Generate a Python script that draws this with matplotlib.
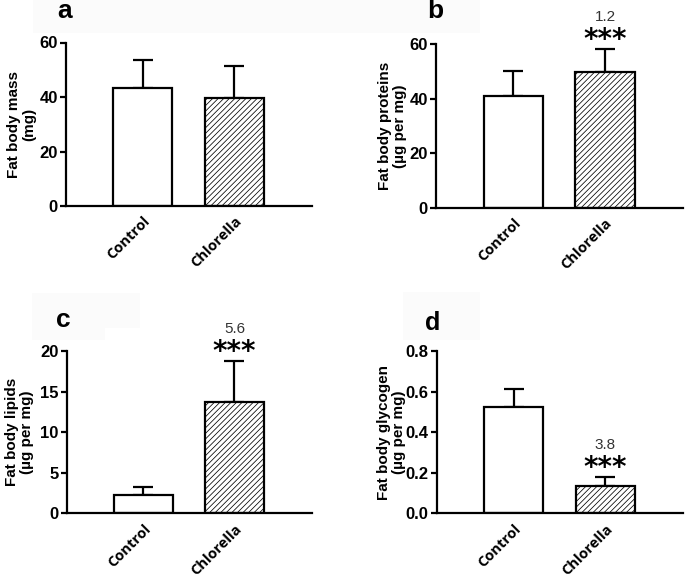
import matplotlib
matplotlib.use("Agg")
import matplotlib.pyplot as plt
from matplotlib.patches import Rectangle

plt.rcParams['font.family'] = ['Liberation Sans', 'DejaVu Sans']
plt.rcParams['hatch.color'] = '#444444'
plt.rcParams['hatch.linewidth'] = 0.55

categories = ["Control", "Chlorella"]

mass_mean = [43.4, 39.7]
mass_err = [10.1, 11.6]

protein_mean = [41.1, 49.9]
protein_err = [9.1, 8.5]

lipid_mean = [2.26, 13.7]
lipid_err = [0.95, 5.1]

glycogen_mean = [0.525, 0.135]
glycogen_err = [0.086, 0.042]

panel_letters = ["a", "b", "c", "d"]
ylabels = ["Fat body mass\n(mg)", "Fat body proteins\n(\u00b5g per mg)",
           "Fat body lipids\n(\u00b5g per mg)", "Fat body glycogen\n(\u00b5g per mg)"]
fold_labels = [None, "1.2", "5.6", "3.8"]
yticks = [[0, 20, 40, 60], [0, 20, 40, 60], [0, 5, 10, 15, 20], [0.0, 0.2, 0.4, 0.6, 0.8]]
ytick_labels = [["0", "20", "40", "60"], ["0", "20", "40", "60"],
                ["0", "5", "10", "15", "20"], ["0.0", "0.2", "0.4", "0.6", "0.8"]]

means = [mass_mean, protein_mean, lipid_mean, glycogen_mean]
errs = [mass_err, protein_err, lipid_err, glycogen_err]

W, H = 685, 582
fig = plt.figure(figsize=(W / 100, H / 100), dpi=100)

# faint backgrounds behind panel letters (px boxes)
for (x0, y0, x1, y1) in [(33, 0, 340, 33), (340, 0, 480, 33), (32, 293, 140, 328),
                         (32, 328, 105, 340), (403, 292, 480, 340)]:
    fig.patches.append(Rectangle((x0 / W, 1 - y1 / H), (x1 - x0) / W, (y1 - y0) / H,
                                 transform=fig.transFigure, facecolor='#fbfbfb',
                                 edgecolor='none', zorder=0))

# axes positions in px: left, right, top, bottom
boxes = [(66, 312, 42.5, 206), (436.3, 683, 44.3, 207.7),
         (66.7, 312, 351, 513.3), (436.7, 683, 351, 513.3)]
letter_pos = [(64.5, 10.5), (435, 11), (63.5, 320), (432.5, 323.5)]
letter_size = [19, 19, 19, 18]
ylabel_right_px = [30, 29.5, 32.5, 31]

x = [1, 2]
for i in range(4):
    l, r, t, b = boxes[i]
    ax = fig.add_axes([l / W, 1 - b / H, (r - l) / W, (b - t) / H])
    ax.set_facecolor('none')
    ax.bar(x, means[i], width=0.645, color=['white', 'white'],
           edgecolor='black', linewidth=1.6, hatch=[None, '//////'], zorder=2)
    ax.errorbar(x, means[i], yerr=[[0, 0], errs[i]], fmt='none', ecolor='black',
                elinewidth=1.6, capsize=7, capthick=1.6, zorder=1)
    ax.set_xlim(0.16, 2.85)
    ax.set_ylim(yticks[i][0], yticks[i][-1])
    ax.set_yticks(yticks[i])
    ax.set_yticklabels(ytick_labels[i], fontsize=12, fontweight='bold')
    ax.set_xticks(x)
    ax.set_xticklabels(categories, rotation=45, ha='right', rotation_mode='anchor',
                       fontsize=10.5, fontweight='bold', family=['Open Sans', 'DejaVu Sans'])
    ax.tick_params(axis='x', length=0, pad=6)
    ax.tick_params(axis='y', length=4, width=1.6, pad=2)
    for s in ['top', 'right']:
        ax.spines[s].set_visible(False)
    for s in ['left', 'bottom']:
        ax.spines[s].set_linewidth(1.6)
    ax.set_ylabel(ylabels[i], fontsize=11, fontweight='bold', linespacing=1.1)
    ax.yaxis.set_label_coords(-ylabel_right_px[i] / (r - l), 0.5)
    if fold_labels[i] is not None:
        top = means[i][1] + errs[i][1]
        ax.annotate("***", xy=(2, top), xytext=(0, -3.5), textcoords='offset points',
                    ha='center', va='bottom', fontsize=20, fontweight='bold',
                    family=['DejaVu Sans'], annotation_clip=False)
        ax.annotate(fold_labels[i], xy=(2, top), xytext=(0, 18), textcoords='offset points',
                    ha='center', va='bottom', fontsize=11, color='#333333',
                    annotation_clip=False)
    lx, ly = letter_pos[i]
    fig.text(lx / W, 1 - ly / H, panel_letters[i], fontsize=letter_size[i], fontweight='bold',
             ha='center', va='center')

fig.savefig("out.png", dpi=100)
